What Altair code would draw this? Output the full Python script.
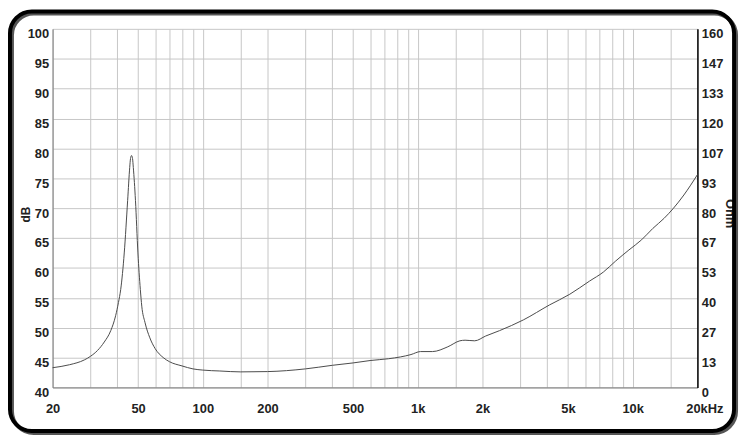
import altair as alt
import pandas as pd

# impedance curve (frequency in Hz, level on the dB axis)
freq_hz = [20, 24, 28.1, 30, 32.4, 34.8, 37.3, 39.3, 40.5, 41.5, 43.1, 44.7, 45.7, 46.1, 46.6,
           47.1, 47.5, 48.6, 49.9, 51.2, 52.0, 53.8, 56.7, 60, 65.4, 70, 80, 90, 100, 120, 150,
           200, 300, 400, 500, 600, 730, 830, 930, 1030, 1170, 1380, 1570, 1660, 1840, 2070,
           2400, 3100, 4100, 5100, 6300, 7300, 8300, 9600, 11000, 12400, 14000, 15400, 17300,
           20000]
level_db = [43.3, 43.8, 44.6, 45.2, 46.2, 47.6, 49.5, 52.0, 54.2, 56.4, 62.5, 71.3, 76.8, 78.3,
            78.8, 78.3, 76.8, 71.3, 62.5, 56.4, 53.6, 50.9, 48.3, 46.5, 45.0, 44.3, 43.6, 43.1,
            42.9, 42.75, 42.6, 42.65, 43.1, 43.7, 44.1, 44.5, 44.8, 45.1, 45.5, 46.0, 46.0, 46.8,
            47.8, 47.9, 47.8, 48.6, 49.5, 51.3, 53.8, 55.6, 57.8, 59.3, 61.1, 63.0, 64.7, 66.6,
            68.3, 69.9, 72.2, 75.6]

db_ticks = [40, 45, 50, 55, 60, 65, 70, 75, 80, 85, 90, 95, 100]
ohm_labels = ["0", "13", "27", "40", "53", "67", "80", "93", "107", "120", "133", "147", "160"]
grid_freqs = [20, 30, 40, 50, 60, 70, 80, 90, 100, 150, 200, 300, 400, 500, 600, 700, 800, 900,
              1000, 1500, 2000, 3000, 4000, 5000, 6000, 7000, 8000, 9000, 10000, 15000, 20000]
label_freqs = [20, 50, 100, 200, 500, 1000, 2000, 5000, 10000, 20000]
label_texts = ["20", "50", "100", "200", "500", "1k", "2k", "5k", "10k", "20kHz"]

OHM_MAX = 160
DB_MIN, DB_MAX = 40, 100

df = pd.DataFrame({"f": freq_hz, "db": level_db})
df["ohm"] = (df["db"] - DB_MIN) * OHM_MAX / (DB_MAX - DB_MIN)

ohm_tick_values = [i * OHM_MAX / (len(ohm_labels) - 1) for i in range(len(ohm_labels))]
ohm_expr = "[" + ",".join("'%s'" % s for s in ohm_labels) + "][round(datum.value*%d/%d)]" % (
    len(ohm_labels) - 1, OHM_MAX)

x_expr = ""
for v, t in zip(label_freqs, label_texts):
    x_expr += "datum.value == %s ? '%s' : " % (v, t)
x_expr += "''"

FONT = "Liberation Sans"
LBL = "#222222"

xscale = alt.Scale(type="log", domain=[20, 20000], nice=False)

xaxis = alt.Axis(values=grid_freqs, labelExpr=x_expr, grid=True, gridColor="#c6c6c6",
                 gridWidth=1, ticks=False, domainColor="#7a7a7a", domainWidth=1,
                 labelPadding=15, labelFontSize=13, labelFont=FONT, labelFontWeight="bold",
                 labelColor=LBL, labelOverlap=False, labelFlush=False, labelBound=False,
                 labelOffset={"condition": {"test": "datum.value == 20000", "value": 7}, "value": 0},
                 title=None)

base = alt.Chart(df)

curve = base.mark_line(color="#4a4a4a", strokeWidth=1, interpolate="monotone").encode(
    x=alt.X("f:Q", scale=xscale, axis=xaxis),
    y=alt.Y("db:Q", scale=alt.Scale(domain=[DB_MIN, DB_MAX], nice=False, zero=False),
            axis=alt.Axis(values=db_ticks, grid=True, gridColor="#c6c6c6", gridWidth=1,
                          ticks=False, domainColor="#7a7a7a", domainWidth=1,
                          labelPadding=4, labelFontSize=13, labelFont=FONT,
                          labelFontWeight="bold", labelColor=LBL, labelBaseline="top",
                          labelOffset=-1, labelOverlap=False, labelFlush=False,
                          title="dB", titleFont=FONT, titleFontSize=12,
                          titleFontWeight="bold", titleColor=LBL, titleAngle=270,
                          titleBaseline="middle", titleAlign="center", titleX=-27,
                          titleY=187)),
)

ohm_layer = base.mark_line(opacity=0).encode(
    x=alt.X("f:Q", scale=xscale),
    y=alt.Y("ohm:Q", scale=alt.Scale(domain=[0, OHM_MAX], nice=False, zero=False),
            axis=alt.Axis(orient="right", values=ohm_tick_values, labelExpr=ohm_expr,
                          grid=False, ticks=False, domainColor="#000000", domainWidth=1.5,
                          labelPadding=4, labelFontSize=13, labelFont=FONT,
                          labelFontWeight="bold", labelColor=LBL, labelBaseline="top",
                          labelOffset=-1, labelOverlap=False, labelFlush=False,
                          title="Ohm", titleFont=FONT, titleFontSize=13,
                          titleFontWeight="bold", titleColor=LBL, titleAngle=90,
                          titleBaseline="middle", titleAlign="center", titleX=32,
                          titleY=186)),
)

frame_df = pd.DataFrame({"k": [0]})
shadow = alt.Chart(frame_df).mark_rect(fill="transparent", stroke="#555555", strokeWidth=4,
                                       cornerRadius=22).encode(
    x=alt.value(-41), x2=alt.value(690), y=alt.value(-15.5), y2=alt.value(408))
frame = alt.Chart(frame_df).mark_rect(fill="transparent", stroke="#000000", strokeWidth=4,
                                      cornerRadius=22).encode(
    x=alt.value(-43), x2=alt.value(688), y=alt.value(-17.5), y2=alt.value(406))

chart = alt.layer(curve, ohm_layer, shadow, frame).resolve_scale(y="independent").properties(
    width=651, height=362,
    padding={"left": 45, "top": 19, "right": 44, "bottom": 48},
    autosize="none",
    background="white",
).configure_view(stroke=None)

chart.save("out.html", embed_options={"renderer": "svg", "actions": False})
